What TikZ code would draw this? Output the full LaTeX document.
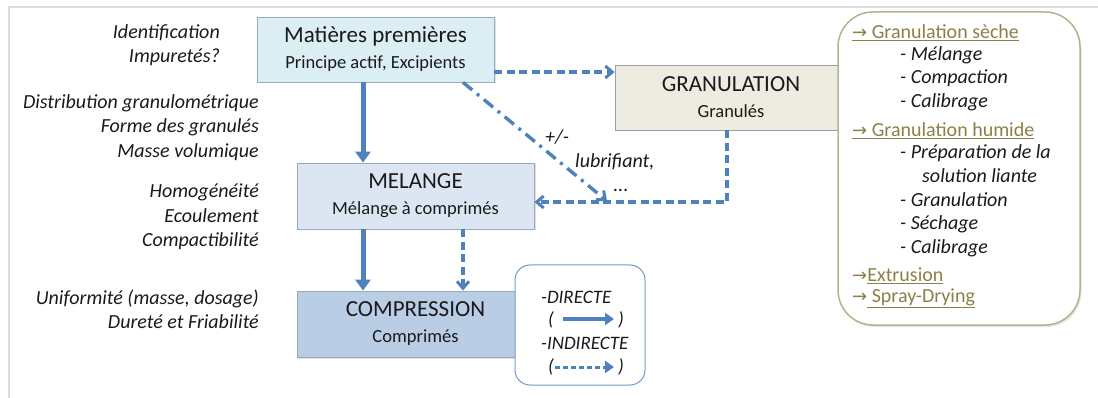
\documentclass[tikz,border=0pt]{standalone}
\usepackage{fontspec}
\setmainfont{Carlito}
\newfontfamily\symf{DejaVu Sans}
\usetikzlibrary{arrows.meta,shadows}
\definecolor{arrowblue}{HTML}{4F81BD}
\definecolor{mpfill}{HTML}{DBEEF4}
\definecolor{melfill}{HTML}{DCE6F2}
\definecolor{compfill}{HTML}{B9CDE5}
\definecolor{granfill}{HTML}{EEECE1}
\definecolor{olive}{HTML}{8C8048}
\definecolor{oliveframe}{HTML}{B5B28F}
\definecolor{framegray}{HTML}{DDDDDD}
\definecolor{boxborder}{HTML}{9AAABB}
\definecolor{txt}{HTML}{1A1A1A}
\tikzset{
  stagebox/.style={draw=boxborder, line width=0.8pt, align=center, inner sep=0pt, text=txt,
    font=\fontsize{18.5}{26}\selectfont,
    drop shadow={shadow xshift=1.5pt, shadow yshift=-1.5pt, fill=black, opacity=0.12}},
  solidarr/.style={draw=arrowblue, line width=5pt, -{Triangle[width=15pt,length=11pt]}},
  dasharr/.style={draw=arrowblue, line width=3.4pt, dash pattern=on 8pt off 4.5pt, -{Straight Barb[width=12pt,length=7pt,line width=3pt]}},
  dotdasharr/.style={draw=arrowblue, line width=3.4pt, dash pattern=on 12pt off 6pt on 3pt off 6pt, -{Straight Barb[width=12pt,length=7pt,line width=3pt]}},
  lefttxt/.style={align=right, anchor=east, text=txt, font=\fontsize{20}{24.5}\selectfont\itshape, inner sep=0pt},
  itemtxt/.style={anchor=west, text=txt, font=\fontsize{20}{24}\selectfont\itshape, inner sep=0pt},
  linktxt/.style={anchor=west, text=olive, font=\fontsize{20}{24}\selectfont, inner sep=0pt},
  legtxt/.style={anchor=west, text=txt, font=\fontsize{19}{23}\selectfont\itshape, inner sep=0pt},
}
\newcommand{\ttlf}{\fontsize{23}{26}\selectfont}
\newcommand{\rarr}{{\symf\fontsize{18}{20}\selectfont →}}
\begin{document}
\begin{tikzpicture}[x=1pt,y=-1pt]
\useasboundingbox (0,0) rectangle (1098,398);
\draw[framegray, line width=1.5pt] (9,398) -- (9,7) -- (1098,7);

% stage boxes
\node[stagebox, fill=mpfill, minimum width=237pt, minimum height=65pt] (mp) at (375.5,49.5)
  {{\ttlf Matières premières}\\Principe actif, Excipients};
\node[stagebox, fill=granfill, draw=boxborder!80!olive, minimum width=232pt, minimum height=65pt] (gran) at (731,97.5)
  {{\ttlf GRANULATION}\\Granulés};
\node[stagebox, fill=melfill, minimum width=237pt, minimum height=66pt] (mel) at (415.5,196)
  {{\ttlf MELANGE}\\Mélange à comprimés};
\node[stagebox, fill=compfill, minimum width=237pt, minimum height=66pt] (comp) at (415.5,324)
  {{\ttlf COMPRESSION}\\Comprimés};

% left annotations
\node[lefttxt] (q1) at (220,45) {Identification\\Impuretés?};
\node[lefttxt] (q2) at (259,127.5) {Distribution granulométrique\\Forme des granulés\\Masse volumique};
\node[lefttxt] (q3) at (259,217) {Homogénéité\\Ecoulement\\Compactibilité};
\node[lefttxt] (q4) at (259,309.5) {Uniformité (masse, dosage)\\Dureté et Friabilité};

% helper coordinates
\coordinate (xa) at (363,0);
\coordinate (xb) at (463,0);
\coordinate (xg) at (727,0);
\coordinate (ya) at (0,72);
\coordinate (yb) at (0,202);
\coordinate (tip) at (607,201);

% connectors
\draw[solidarr] (mp.south -| xa) -- (mel.north -| xa);
\draw[solidarr] (mel.south -| xa) -- (comp.north -| xa);
\draw[dasharr] (mel.south -| xb) -- (comp.north -| xb);
\draw[dasharr] (mp.east |- ya) -- (gran.west |- ya);
\draw[dasharr] (gran.south -| xg) -- (xg |- yb) -- (mel.east |- yb);
\draw[dotdasharr] (mp.south -| xb) -- (tip);

\node[text=txt, font=\fontsize{20}{24}\selectfont\itshape, inner sep=0pt] (pm) at (557,137) {+/-};
\node[text=txt, font=\fontsize{20}{24}\selectfont\itshape, inner sep=0pt, anchor=west] (lub) at (575,162) {lubrifiant,};
\node[text=txt, font=\fontsize{20}{24}\selectfont\itshape, inner sep=0pt] (dots) at (621,190) {...};

% legend box
\node[draw=arrowblue!80, line width=1pt, rounded corners=15pt, fill=white, minimum width=130pt, minimum height=120pt] (leg) at (580,325) {};
\node[legtxt] (ld) at (541,297) {-DIRECTE};
\node[legtxt] (lp1) at (548,320) {(};
\node[legtxt] (lp2) at (618,320) {)};
\node[legtxt] (li) at (541,343) {-INDIRECTE};
\node[legtxt] (lp3) at (548,367) {(};
\node[legtxt] (lp4) at (618,367) {)};
\coordinate (s1) at (563,319);
\coordinate (s2) at (614,319);
\coordinate (d1) at (555,367);
\coordinate (d2) at (614,367);
\draw[draw=arrowblue, line width=4pt, -{Triangle[width=12pt,length=9pt]}] (s1) -- (s2);
\draw[draw=arrowblue, line width=3pt, dash pattern=on 5pt off 3pt, -{Triangle[width=12pt,length=9pt]}] (d1) -- (d2);

% right methods box
\node[draw=oliveframe, line width=1.5pt, rounded corners=35pt, fill=white,
  drop shadow={shadow xshift=1.5pt, shadow yshift=-2pt, fill=black, opacity=0.1},
  minimum width=242pt, minimum height=313pt] (meth) at (959,168.5) {};
\node[linktxt] (m1) at (852,33) {\underline{\rarr\ Granulation sèche}};
\node[itemtxt] (m2) at (900,55) {- Mélange};
\node[itemtxt] (m3) at (900,78) {- Compaction};
\node[itemtxt] (m4) at (900,102) {- Calibrage};
\node[linktxt] (m5) at (852,131) {\underline{\rarr\ Granulation humide}};
\node[itemtxt] (m6) at (900,153) {- Préparation de la};
\node[itemtxt] (m7) at (922,176) {solution liante};
\node[itemtxt] (m8) at (900,200) {- Granulation};
\node[itemtxt] (m9) at (900,224) {- Séchage};
\node[itemtxt] (m10) at (900,248) {- Calibrage};
\node[linktxt] (m11) at (852,276) {\rarr\underline{Extrusion}};
\node[linktxt] (m12) at (852,298) {\rarr\underline{\ Spray-Drying}};
\end{tikzpicture}
\end{document}
